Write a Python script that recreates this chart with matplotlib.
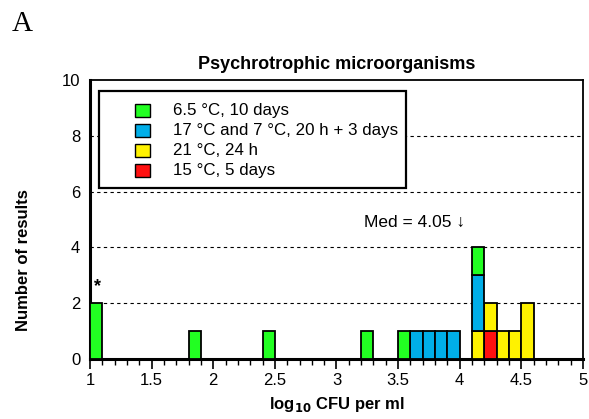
import numpy as np
import matplotlib
matplotlib.use("Agg")
import matplotlib.pyplot as plt
from matplotlib.patches import Rectangle

plt.rcParams['font.family'] = ['Liberation Sans', 'DejaVu Sans']

bin_width = 0.1
# series: left edges of bins and counts
series_labels = ["6.5 °C, 10 days", "17 °C and 7 °C, 20 h + 3 days", "21 °C, 24 h", "15 °C, 5 days"]
series_colors = ["#22ff22", "#00aee8", "#fff200", "#ff1010"]
green_x = [1.0, 1.8, 2.4, 3.2, 3.5, 4.1]
green_n = [2, 1, 1, 1, 1, 1]
blue_x = [3.6, 3.7, 3.8, 3.9, 4.1]
blue_n = [1, 1, 1, 1, 2]
yellow_x = [4.1, 4.2, 4.3, 4.4, 4.5]
yellow_n = [1, 1, 1, 1, 2]
red_x = [4.2]
red_n = [1]

median = 4.05
xticks = [1, 1.5, 2, 2.5, 3, 3.5, 4, 4.5, 5]
xtick_labels = ["1", "1.5", "2", "2.5", "3", "3.5", "4", "4.5", "5"]
yticks = [0, 2, 4, 6, 8, 10]

W, H = 589, 419
fig = plt.figure(figsize=(W/100, H/100), dpi=100)
ax = fig.add_axes([90/W, 1-359/H, 493/W, 279/H])

# stacking order from bottom: red, yellow, blue, green
stack = [(red_x, red_n, series_colors[3]),
         (yellow_x, yellow_n, series_colors[2]),
         (blue_x, blue_n, series_colors[1]),
         (green_x, green_n, series_colors[0])]
bottoms = {}
for xs, ns, col in stack:
    b = [bottoms.get(round(x, 2), 0) for x in xs]
    ax.bar(xs, ns, width=bin_width, bottom=b, align='edge', color=col,
           edgecolor='black', linewidth=1.3, zorder=3)
    for x, n in zip(xs, ns):
        bottoms[round(x, 2)] = bottoms.get(round(x, 2), 0) + n

ax.set_xlim(1, 5)
ax.set_ylim(0, 10)
for y in [2, 4, 6, 8]:
    ax.axhline(y, color='black', linestyle=(0, (3, 3)), linewidth=0.8, zorder=1)

ax.set_xticks(xticks)
ax.set_xticklabels(xtick_labels, fontsize=12)
ax.set_xticks(np.arange(1, 5.01, 0.1), minor=True)
ax.tick_params(axis='x', which='major', direction='out', length=7, width=1.2, pad=3)
ax.tick_params(axis='x', which='minor', direction='out', length=4, width=1.0)
ax.set_yticks(yticks)
ax.set_yticklabels([str(v) for v in yticks], fontsize=12)
ax.tick_params(axis='y', length=0, pad=7)

for s in ['left', 'bottom']:
    ax.spines[s].set_linewidth(2.2)
for s in ['top', 'right']:
    ax.spines[s].set_linewidth(1.3)

ax.set_title("Psychrotrophic microorganisms", fontsize=13, fontweight='bold', pad=8)
ax.set_ylabel("Number of results", fontsize=12, fontweight='bold')
ax.yaxis.set_label_coords(-0.12, 0.355)
ax.set_xlabel(r"log$_{\mathbf{10}}$ CFU per ml", fontsize=12, fontweight='bold', labelpad=5)

ax.text(1.06, 2.6, "*", fontsize=13, fontweight='bold', ha='center', va='center')
ax.text(4.04, 4.91, f"Med = {median:.2f} ↓", fontsize=12.5, ha='right', va='center')

# manual legend (axes coordinates)
box_l, box_r, box_t, box_b = 9/493, 316/493, (359-91)/279, (359-188)/279
ax.add_patch(Rectangle((box_l, box_b), box_r-box_l, box_t-box_b, transform=ax.transAxes,
                       facecolor='white', edgecolor='black', linewidth=1.6, zorder=6))
sq_cx, sq_w, sq_h = 52.7/493, 15/493, 13/279
row0, row_step = (359-110.7)/279, 20/279
for i, (lab, col) in enumerate(zip(series_labels, series_colors)):
    cy = row0 - i*row_step
    ax.add_patch(Rectangle((sq_cx - sq_w/2, cy - sq_h/2), sq_w, sq_h, transform=ax.transAxes,
                           facecolor=col, edgecolor='black', linewidth=1.0, zorder=7))
    ax.text(83/493, cy, lab, transform=ax.transAxes, fontsize=12.2, ha='left', va='center', zorder=7)

fig.text(12/W, 1-24/H, "A", fontsize=21, family='Liberation Serif', va='center', ha='left')

fig.savefig("out.png", dpi=100)
